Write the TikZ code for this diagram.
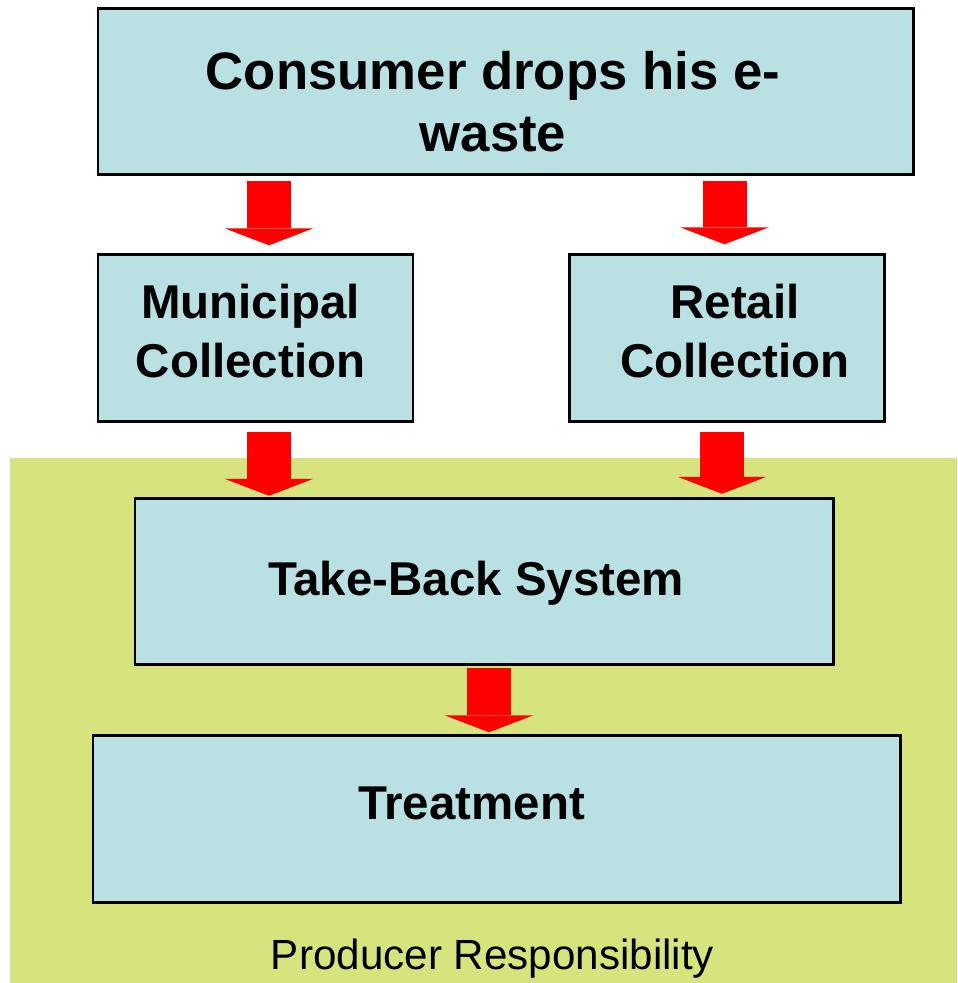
\documentclass[tikz,border=0pt]{standalone}
\usepackage{fontspec}
\setmainfont{Liberation Sans}
\usetikzlibrary{arrows.meta}
\definecolor{boxblue}{RGB}{185,224,227}
\definecolor{zonegreen}{RGB}{215,228,125}
\tikzstyle{stage} = [rectangle, minimum height=3.33cm, draw=black, line width=1.7pt, fill=boxblue]
\tikzstyle{caption} = [align=center, inner sep=0pt, font=\fontsize{27}{33.5}\selectfont\bfseries]
\tikzstyle{zone} = [rectangle, fill=zonegreen, minimum width=18.94cm, minimum height=10.5cm, inner sep=0pt]
\tikzstyle{bigarrow} = [red, line width=0.88cm, -{Triangle[width=1.78cm, length=0.34cm, line width=0pt]}]

\begin{document}
\begin{tikzpicture}[node distance=4.93cm]
\useasboundingbox (0,0) rectangle (19.14,-19.66);
\node (resp) [zone] at (9.67,-14.41) {};
\node (consumer) [stage, minimum width=16.3cm, label={[caption, font=\fontsize{30}{35}\selectfont\bfseries, xshift=-0.25cm, yshift=-0.2cm]center:Consumer drops his e-\\waste}] at (10.11,-1.83) {};
\node (muni) [stage, minimum width=6.3cm, below of=consumer, xshift=-5cm, label={[caption, xshift=-0.1cm, yshift=0.14cm]center:Municipal\\Collection}] {};
\node (retail) [stage, minimum width=6.3cm, right of=muni, xshift=4.49cm, label={[caption, xshift=0.17cm, yshift=0.14cm]center:Retail\\Collection}] {};
\node (takeback) [stage, minimum width=13.96cm, below of=muni, xshift=4.57cm, yshift=0.06cm, label={[caption, xshift=-0.16cm, yshift=-0.04cm]center:Take-Back System}] {};
\node (treat) [stage, minimum width=16.14cm, below of=takeback, xshift=0.25cm, yshift=0.18cm, label={[caption, xshift=-0.5cm, yshift=0.32cm]center:Treatment}] {};
\node (prodtext) [anchor=base, font=\fontsize{24}{29}\selectfont] at ([xshift=0.18cm, yshift=0.28cm]resp.south) {Producer Responsibility};

\draw [bigarrow, shorten <=0.1cm, shorten >=0.16cm] ([xshift=0.27cm]consumer.south -| muni.north) -- ([xshift=0.27cm]muni.north);
\draw [bigarrow, shorten <=0.1cm, shorten >=0.18cm] ([xshift=-0.04cm]consumer.south -| retail.north) -- ([xshift=-0.04cm]retail.north);
\draw [bigarrow, shorten <=0.18cm, shorten >=0.02cm] ([xshift=0.27cm]muni.south) -- ([xshift=0.27cm]takeback.north -| muni.south);
\draw [bigarrow, shorten <=0.18cm, shorten >=0.06cm] ([xshift=-0.09cm]retail.south) -- ([xshift=-0.09cm]takeback.north -| retail.south);
\draw [bigarrow, shorten <=0.04cm, shorten >=0.04cm] ([xshift=0.1cm]takeback.south) -- ([xshift=0.1cm]treat.north -| takeback.south);
\end{tikzpicture}
\end{document}
